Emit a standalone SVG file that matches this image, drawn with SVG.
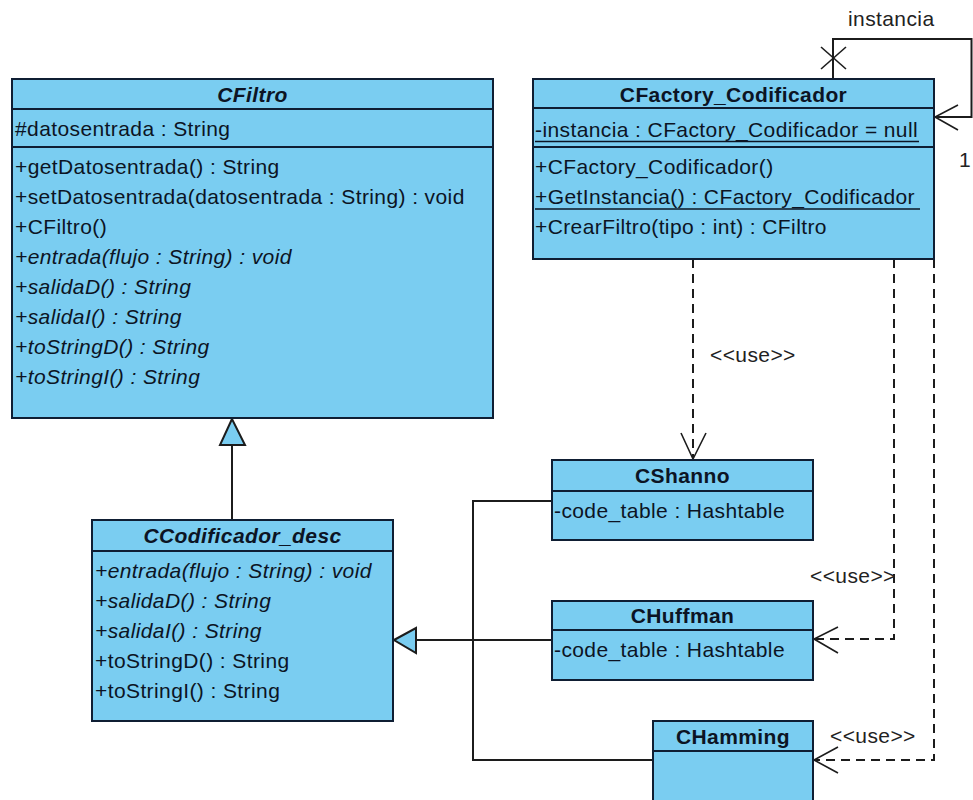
<svg xmlns="http://www.w3.org/2000/svg" width="973" height="800" viewBox="0 0 973 800">
  <style>
    .box { fill: #7acdf1; stroke: #0f1e33; stroke-width: 2; }
    .sep { stroke: #0f1e33; stroke-width: 2; }
    .ul { stroke: #0c1424; stroke-width: 1.5; }
    text { font-family: "Liberation Sans", Arial, sans-serif; font-size: 21px; fill: #0c1424; letter-spacing: 0.4px; }
    .title { font-weight: bold; text-anchor: middle; }
    .it { font-style: italic; }
    .lbl { fill: #222; }
    .edge { fill: none; stroke: #1c1c1c; stroke-width: 2; }
    .head { fill: none; stroke: #1c1c1c; stroke-width: 1.6; }
    .dash { stroke-dasharray: 9 6; }
    .tri { fill: #7acdf1; stroke: #1c1c1c; stroke-width: 2; }
  </style>
  <rect width="973" height="800" fill="#ffffff"/>

  <!-- connectors -->
  <g id="connectors">
    <!-- generalization CCodificador_desc -> CFiltro -->
    <line class="edge" x1="232" y1="445" x2="232" y2="520"/>
    <polygon class="tri" points="232,419 220,445 245,445"/>

    <!-- generalizations CShanno / CHuffman / CHamming -> CCodificador_desc -->
    <polyline class="edge" points="552,501 473,501 473,760 653,760"/>
    <line class="edge" x1="552" y1="640" x2="416" y2="640"/>
    <polygon class="tri" points="394,640 416,628 416,653"/>

    <!-- self association "instancia" -->
    <polyline class="edge" points="833,79 833,39 971.5,39 971.5,117 934,117"/>
    <polyline class="head" points="958,105 935,117 958,130"/>
    <line class="head" x1="821" y1="47" x2="846" y2="69"/>
    <line class="head" x1="846" y1="47" x2="821" y2="69"/>
    <text class="lbl" x="848" y="26">instancia</text>
    <text class="lbl" x="959" y="167">1</text>

    <!-- <<use>> dependencies -->
    <line class="edge dash" x1="693" y1="259" x2="693" y2="458"/>
    <polyline class="head" points="681,433 693,459 706,433"/>
    <text class="lbl" x="710" y="362">&lt;&lt;use&gt;&gt;</text>

    <polyline class="edge dash" points="894,259 894,639 815,639"/>
    <polyline class="head" points="838,627 814,639 838,653"/>
    <text class="lbl" x="810" y="583">&lt;&lt;use&gt;&gt;</text>

    <polyline class="edge dash" points="934,259 934,760 815,760"/>
    <polyline class="head" points="838,747 814,760 838,773"/>
    <text class="lbl" x="830" y="743">&lt;&lt;use&gt;&gt;</text>
  </g>

  <!-- CFiltro -->
  <g id="CFiltro">
    <rect class="box" x="12" y="79" width="481" height="339"/>
    <line class="sep" x1="12" y1="109" x2="493" y2="109"/>
    <line class="sep" x1="12" y1="147" x2="493" y2="147"/>
    <text class="title it" x="252.5" y="102">CFiltro</text>
    <text x="15" y="136">#datosentrada : String</text>
    <text x="15" y="174">+getDatosentrada() : String</text>
    <text x="15" y="204">+setDatosentrada(datosentrada : String) : void</text>
    <text x="15" y="234">+CFiltro()</text>
    <text class="it" x="15" y="264">+entrada(flujo : String) : void</text>
    <text class="it" x="15" y="294">+salidaD() : String</text>
    <text class="it" x="15" y="324">+salidaI() : String</text>
    <text class="it" x="15" y="354">+toStringD() : String</text>
    <text class="it" x="15" y="384">+toStringI() : String</text>
  </g>

  <!-- CFactory_Codificador -->
  <g id="CFactory_Codificador">
    <rect class="box" x="533" y="79" width="401" height="180"/>
    <line class="sep" x1="533" y1="108" x2="934" y2="108"/>
    <line class="sep" x1="533" y1="147" x2="934" y2="147"/>
    <text class="title" x="733.5" y="102">CFactory_Codificador</text>
    <text x="535" y="137">-instancia : CFactory_Codificador = null</text>
    <line class="ul" x1="535" y1="141.5" x2="919" y2="141.5"/>
    <text x="535" y="174">+CFactory_Codificador()</text>
    <text x="535" y="204">+GetInstancia() : CFactory_Codificador</text>
    <line class="ul" x1="535" y1="209" x2="920" y2="209"/>
    <text x="535" y="234">+CrearFiltro(tipo : int) : CFiltro</text>
  </g>

  <!-- CCodificador_desc -->
  <g id="CCodificador_desc">
    <rect class="box" x="92" y="520" width="301" height="201"/>
    <line class="sep" x1="92" y1="551" x2="393" y2="551"/>
    <text class="title it" x="242.5" y="543">CCodificador_desc</text>
    <text class="it" x="95" y="578">+entrada(flujo : String) : void</text>
    <text class="it" x="95" y="608">+salidaD() : String</text>
    <text class="it" x="95" y="638">+salidaI() : String</text>
    <text x="95" y="668">+toStringD() : String</text>
    <text x="95" y="698">+toStringI() : String</text>
  </g>

  <!-- CShanno -->
  <g id="CShanno">
    <rect class="box" x="552" y="460" width="261" height="80"/>
    <line class="sep" x1="552" y1="491" x2="813" y2="491"/>
    <text class="title" x="682.5" y="483">CShanno</text>
    <text x="554" y="518">-code_table : Hashtable</text>
  </g>

  <!-- CHuffman -->
  <g id="CHuffman">
    <rect class="box" x="552" y="601" width="261" height="79"/>
    <line class="sep" x1="552" y1="630" x2="813" y2="630"/>
    <text class="title" x="682.5" y="623">CHuffman</text>
    <text x="554" y="657">-code_table : Hashtable</text>
  </g>

  <!-- CHamming -->
  <g id="CHamming">
    <rect class="box" x="653" y="721" width="160" height="90"/>
    <line class="sep" x1="653" y1="751" x2="813" y2="751"/>
    <text class="title" x="733" y="744">CHamming</text>
  </g>
</svg>
